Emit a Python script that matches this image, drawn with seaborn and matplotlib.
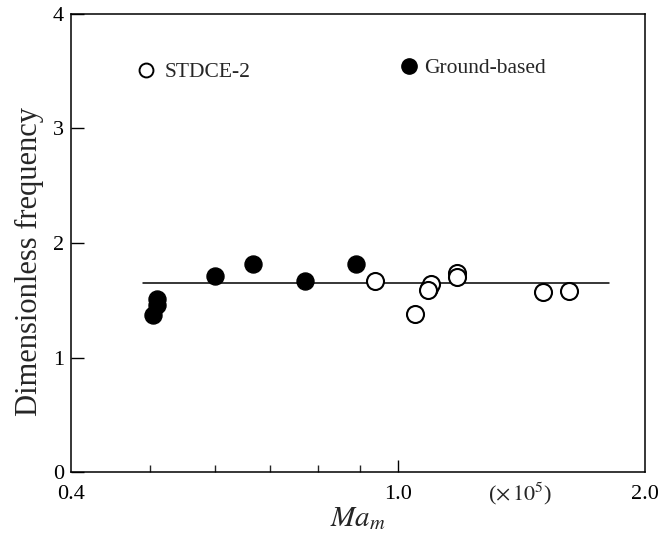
import numpy as np
import pandas as pd
import matplotlib
matplotlib.use("Agg")
import matplotlib.pyplot as plt
from matplotlib.lines import Line2D
from matplotlib.ticker import FixedLocator, NullFormatter
import seaborn as sns

# ─── Data ───
ground_ma = [0.504, 0.510, 0.510, 0.599, 0.667, 0.772, 0.890]
ground_freq = [1.37, 1.46, 1.51, 1.71, 1.82, 1.67, 1.82]

stdce_ma = [0.938, 1.050, 1.092, 1.098, 1.090, 1.181, 1.181, 1.503, 1.617]
stdce_freq = [1.67, 1.38, 1.61, 1.64, 1.59, 1.74, 1.70, 1.57, 1.58]

fit_ma = [0.49, 1.81]
fit_freq = [1.65, 1.65]

x_major = [0.4, 1.0, 2.0]
x_major_labels = ["0.4", "1.0", "2.0"]
x_minor = [0.5, 0.6, 0.7, 0.8, 0.9]
y_ticks = [0, 1, 2, 3, 4]

sns.set_theme(style="ticks")
plt.rcParams["font.family"] = ["Liberation Serif", "DejaVu Serif"]
plt.rcParams["mathtext.fontset"] = "stix"

fig = plt.figure(figsize=(6.58, 5.37), dpi=100)
ax = fig.add_axes([0.1075, 0.121, 0.8725, 0.853])

ground = pd.DataFrame({"ma": ground_ma, "freq": ground_freq})
stdce = pd.DataFrame({"ma": stdce_ma, "freq": stdce_freq})
fit = pd.DataFrame({"ma": fit_ma, "freq": fit_freq})

sns.lineplot(data=fit, x="ma", y="freq", color="black", linewidth=1.1, ax=ax)
sns.scatterplot(data=ground, x="ma", y="freq", color="black", edgecolor="black",
                s=150, linewidth=1.0, ax=ax, zorder=3)
sns.scatterplot(data=stdce, x="ma", y="freq", facecolor="white", edgecolor="black",
                s=150, linewidth=1.5, ax=ax, zorder=4)

ax.set_xscale("log")
ax.set_xlim(0.4, 2.0)
ax.set_ylim(0, 4)

ax.xaxis.set_major_locator(FixedLocator(x_major))
ax.set_xticklabels(x_major_labels)
ax.xaxis.set_minor_locator(FixedLocator(x_minor))
ax.xaxis.set_minor_formatter(NullFormatter())
ax.set_yticks(y_ticks)

ax.tick_params(axis="both", which="major", direction="in", length=9, width=1,
               labelsize=16, colors="black", pad=5)
ax.tick_params(axis="x", which="major", pad=9)
ax.tick_params(axis="x", which="minor", direction="in", length=5, width=1)
# 0.4 and 2.0 sit on the frame edges; only 1.0 shows a long tick
ax.xaxis.get_major_ticks()[0].tick1line.set_visible(False)
ax.xaxis.get_major_ticks()[2].tick1line.set_visible(False)

for side in ["top", "right", "bottom", "left"]:
    ax.spines[side].set_visible(True)
    ax.spines[side].set_color("black")
    ax.spines[side].set_linewidth(1.1)

ax.set_xlabel("$Ma_m$", fontsize=21, labelpad=1)
ax.set_ylabel("Dimensionless frequency", fontsize=22, labelpad=6)
ax.yaxis.label.set_y(0.46)
ax.text(1.41, -0.019, r"($\times\,10^5$)", transform=ax.get_xaxis_transform(),
        fontsize=16, ha="center", va="top")

# legend entries, placed as in the reference
open_h = Line2D([], [], marker="o", linestyle="none", markersize=10,
                markerfacecolor="white", markeredgecolor="black", markeredgewidth=1.4)
fill_h = Line2D([], [], marker="o", linestyle="none", markersize=11,
                markerfacecolor="black", markeredgecolor="black")
leg1 = ax.legend([open_h], ["STDCE-2"], loc="upper left", bbox_to_anchor=(0.093, 0.913),
                 frameon=False, fontsize=15.5, handletextpad=0.3, handlelength=1.2,
                 borderaxespad=0)
ax.add_artist(leg1)
ax.legend([fill_h], ["Ground-based"], loc="upper left", bbox_to_anchor=(0.551, 0.922),
          frameon=False, fontsize=15.5, handletextpad=0.1, handlelength=1.2,
          borderaxespad=0)

fig.savefig("out.png", dpi=100)
